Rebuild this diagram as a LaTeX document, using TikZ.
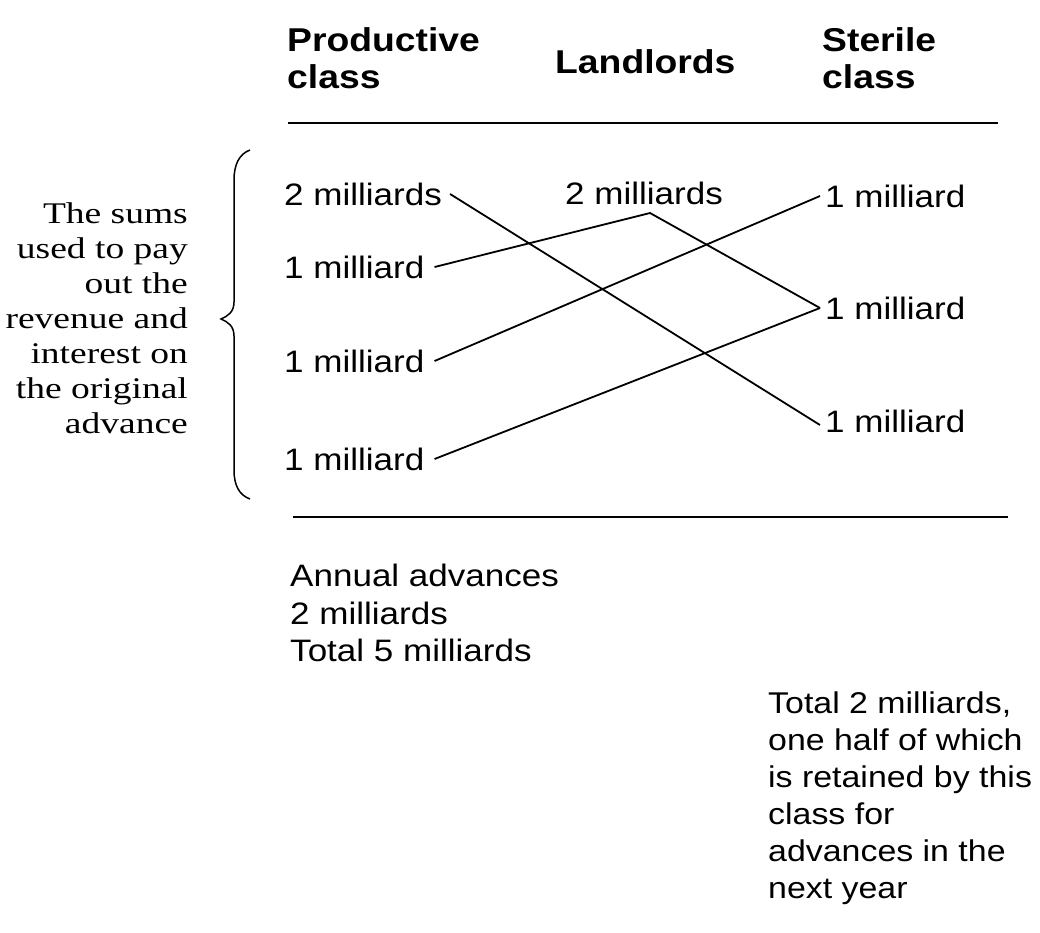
\documentclass[tikz,border=0pt]{standalone}
\usepackage{fontspec}
\setmainfont{Liberation Sans}[FakeStretch=1.13]
\newfontfamily\oldserif{Liberation Serif}[FakeStretch=1.25]
\begin{document}
\begin{tikzpicture}[x=1pt,y=-1pt,
  lbl/.style={inner sep=0pt, anchor=west, font=\fontsize{31}{35}\selectfont},
  hdr/.style={inner sep=0pt, anchor=west, align=left, font=\bfseries\fontsize{33}{37}\selectfont},
  note/.style={inner sep=0pt, anchor=west, align=left, font=\fontsize{31}{37.5}\selectfont},
  side/.style={inner sep=0pt, anchor=east, align=right, font=\oldserif\fontsize{30}{35}\selectfont},
  flow/.style={draw, line width=1.8pt},
  rulel/.style={line width=2.6pt}]
\useasboundingbox[fill=white] (0,0) rectangle (1040,932);

% headers
\node[hdr] (hp) at (287,58) {Productive\\class};
\node[hdr] (hl) at (555,62) {Landlords};
\node[hdr] (hs) at (822,58) {Sterile\\class};

% rules
\draw[rulel] (288,123) -- (998,123);
\draw[rulel] (293,517) -- (1008,517);

% left column
\node[lbl] (pa) at (284,194) {2 milliards};
\node[lbl] (pb) at (284,267) {1 milliard};
\node[lbl] (pc) at (284,361) {1 milliard};
\node[lbl] (pd) at (284,459) {1 milliard};
% landlords
\node[lbl] (la) at (565,193) {2 milliards};
\coordinate (lv) at (650,213);
% right column
\node[lbl] (sa) at (825,196) {1 milliard};
\node[lbl] (sb) at (825,308) {1 milliard};
\node[lbl] (sc) at (825,421) {1 milliard};

% connectors
\draw[flow] ([xshift=8pt]pa.east) -- ([xshift=-5pt,yshift=-4pt]sc.west);
\draw[flow] ([xshift=10pt]pb.east) -- (lv) -- ([xshift=-5pt]sb.west);
\draw[flow] ([xshift=10pt]pc.east) -- ([xshift=-5pt]sa.west);
\draw[flow] ([xshift=10pt]pd.east) -- ([xshift=-5pt]sb.west);

% brace
\draw[line width=1.5pt] (250,150) .. controls (239,154) and (234,165) .. (234,180)
  -- (234,302) .. controls (234,312) and (228,316) .. (221,319)
  .. controls (228,322) and (234,326) .. (234,336)
  -- (234,470) .. controls (234,485) and (239,495) .. (250,499);

% side text
\node[side] (st) at (188,318) {The sums\\used to pay\\out the\\revenue and\\interest on\\the original\\advance};

% bottom notes
\node[note] (na) at (290,613) {Annual advances\\2 milliards\\Total 5 milliards};
\node[note, font=\fontsize{30}{37}\selectfont] (nb) at (768,798) {Total 2 milliards,\\one half of which\\is retained by this\\class for\\advances in the\\next year};
\end{tikzpicture}
\end{document}
